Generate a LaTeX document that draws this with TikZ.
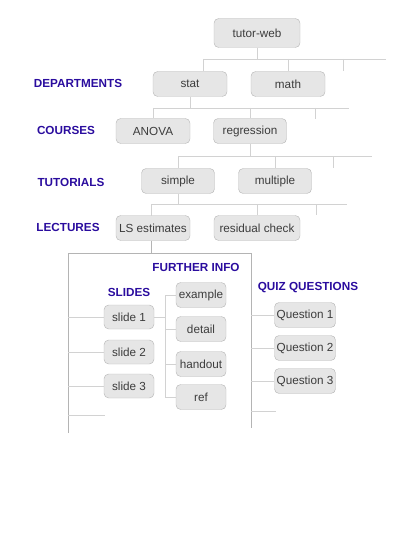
\documentclass[tikz,border=0pt]{standalone}
\usepackage{fontspec}
\setmainfont{Liberation Sans}
\usepackage{tikz}
\usetikzlibrary{positioning}

\definecolor{boxfill}{HTML}{E6E6E6}
\definecolor{boxline}{HTML}{B9B9B9}
\definecolor{boxtext}{HTML}{3C3C3C}
\definecolor{busline}{HTML}{D2D2D2}
\definecolor{frameline}{HTML}{B4B4B4}
\definecolor{levelblue}{RGB}{42,12,158}

\begin{document}
\begin{tikzpicture}[
        x=0.03cm, y=-0.03cm,
        box/.style={rectangle, draw=boxline, fill=boxfill, rounded corners=4pt,
                    minimum width=2.22cm, minimum height=0.75cm, inner sep=1pt,
                    text=boxtext, font=\fontsize{10}{12}\selectfont},
        small/.style={box, minimum width=1.5cm},
        quiz/.style={box, minimum width=1.83cm},
        level/.style={text=levelblue, font=\bfseries\fontsize{10}{12}\selectfont},
        bus/.style={draw=busline, line width=0.5pt},
        frame/.style={draw=frameline, line width=0.5pt},
    ]
        \useasboundingbox (0,0) rectangle (415,537);

        % levels on the left
        \node[level] (dep) at (78,83) {DEPARTMENTS};
        \node[level] (crs) at (66,130) {COURSES};
        \node[level] (tut) at (71,182) {TUTORIALS};
        \node[level] (lec) at (68,227) {LECTURES};

        % tree
        \node[box, minimum width=2.58cm, minimum height=0.87cm] (root) at (257,33) {tutor-web};
        \node[box] (stat) at (190,84) {stat};
        \node[box] (math) at (288,84) {math};
        \node[box] (anova) at (153,131) {ANOVA};
        \node[box, minimum width=2.19cm] (regr) at (250,131) {regression};
        \node[box, minimum width=2.19cm] (simple) at (178,181) {simple};
        \node[box, minimum width=2.19cm] (multi) at (275,181) {multiple};
        \node[box] (ls) at (153,228) {LS estimates};
        \node[box, minimum width=2.58cm] (resid) at (257,228) {residual check};

        % bus ends and spare slots
        \coordinate (bus1) at (386,59);  \coordinate (spare1) at (343,71);
        \coordinate (bus2) at (349,108); \coordinate (spare2) at (315,119);
        \coordinate (bus3) at (372,156); \coordinate (spare3) at (333,168);
        \coordinate (bus4) at (347,204); \coordinate (spare4) at (316,215);
        \coordinate (statx) at (203,71);
        \coordinate (lsx) at (151,216);

        \draw[bus] (root) -- (root |- bus1);
        \draw[bus] (statx |- bus1) -- (bus1);
        \draw[bus] (statx |- bus1) -- (statx);
        \draw[bus] (math.north |- bus1) -- (math.north);
        \draw[bus] (spare1 |- bus1) -- (spare1);

        \draw[bus] (stat) -- (stat |- bus2);
        \draw[bus] (anova.north |- bus2) -- (bus2);
        \draw[bus] (anova.north |- bus2) -- (anova.north);
        \draw[bus] (regr.north |- bus2) -- (regr.north);
        \draw[bus] (spare2 |- bus2) -- (spare2);

        \draw[bus] (regr) -- (regr |- bus3);
        \draw[bus] (simple.north |- bus3) -- (bus3);
        \draw[bus] (simple.north |- bus3) -- (simple.north);
        \draw[bus] (multi.north |- bus3) -- (multi.north);
        \draw[bus] (spare3 |- bus3) -- (spare3);

        \draw[bus] (simple) -- (simple |- bus4);
        \draw[bus] (lsx |- bus4) -- (bus4);
        \draw[bus] (lsx |- bus4) -- (lsx);
        \draw[bus] (resid.north |- bus4) -- (resid.north);
        \draw[bus] (spare4 |- bus4) -- (spare4);

        % lecture frame
        \coordinate (fl) at (68,253);
        \coordinate (fr) at (251,253);
        \coordinate (flb) at (68,433);
        \coordinate (frb) at (251,428);
        \draw[frame] (lsx |- ls.south) -- (lsx |- fl);
        \draw[frame] (flb) -- (fl) -- (fr) -- (frb);

        \node[level] (more) at (196,267) {FURTHER INFO};
        \node[level] (sld) at (129,292) {SLIDES};
        \node[level] (qq) at (308,288) {QUIZ QUESTIONS};

        % slides
        \node[small, minimum height=0.72cm] (s1) at (129,317) {slide 1};
        \node[small, minimum height=0.72cm] (s2) at (129,352) {slide 2};
        \node[small, minimum height=0.72cm] (s3) at (129,386) {slide 3};
        \coordinate (s4) at (105,415);
        \foreach \s in {s1,s2,s3,s4}
            \draw[bus] (fl |- \s) -- (\s);

        % further info
        \node[small] (ex) at (201,295) {example};
        \node[small] (det) at (201,329) {detail};
        \node[small] (hand) at (201,364) {handout};
        \node[small] (ref) at (201,397) {ref};
        \coordinate (spine) at (165,294);
        \draw[bus] (s1.east) -- (spine |- s1);
        \draw[bus] (spine |- ex) -- (spine |- ref);
        \foreach \f in {ex,det,hand,ref}
            \draw[bus] (spine |- \f) -- (\f.west);

        % quiz questions
        \node[quiz] (q1) at (305,315) {Question 1};
        \node[quiz] (q2) at (305,348) {Question 2};
        \node[quiz] (q3) at (305,381) {Question 3};
        \coordinate (q4) at (276,411);
        \foreach \q in {q1,q2,q3}
            \draw[bus] (fr |- \q) -- (\q.west);
        \draw[bus] (fr |- q4) -- (q4);
    \end{tikzpicture}
\end{document}
